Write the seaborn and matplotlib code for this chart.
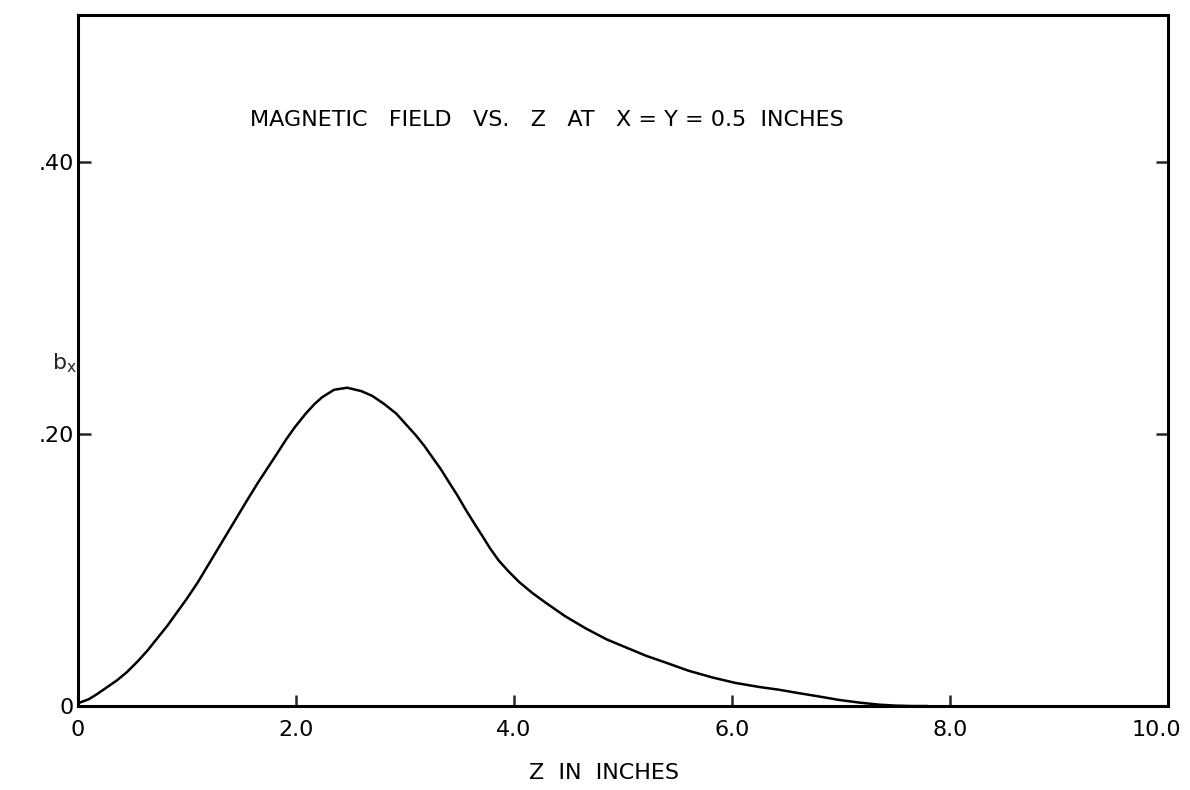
import matplotlib
matplotlib.use("Agg")
import matplotlib.pyplot as plt
from matplotlib.transforms import ScaledTranslation
import pandas as pd
import seaborn as sns

# Data (z in inches, b_x)
z = [0.00, 0.10, 0.18, 0.27, 0.36, 0.45, 0.55, 0.64, 0.73, 0.82, 0.91, 1.00,
     1.10, 1.19, 1.28, 1.37, 1.46, 1.55, 1.65, 1.74, 1.83, 1.91, 1.99, 2.09,
     2.17, 2.24, 2.35, 2.47, 2.60, 2.70, 2.81, 2.92, 3.01, 3.10, 3.18, 3.25,
     3.33, 3.40, 3.48, 3.56, 3.63, 3.71, 3.78, 3.86, 3.95, 4.05, 4.17, 4.29,
     4.47, 4.66, 4.85, 5.03, 5.21, 5.39, 5.60, 5.82, 6.03, 6.25, 6.43, 6.61,
     6.80, 6.98, 7.17, 7.35, 7.50, 7.65, 7.80]
bx = [0.002, 0.005, 0.009, 0.014, 0.019, 0.025, 0.033, 0.041, 0.050, 0.059, 0.069, 0.079,
      0.091, 0.103, 0.115, 0.127, 0.139, 0.151, 0.164, 0.175, 0.186, 0.196, 0.205, 0.215,
      0.222, 0.227, 0.2325, 0.234, 0.2315, 0.228, 0.222, 0.215, 0.207, 0.199, 0.191, 0.183,
      0.174, 0.165, 0.155, 0.144, 0.135, 0.125, 0.116, 0.107, 0.099, 0.091, 0.083, 0.076,
      0.066, 0.057, 0.049, 0.043, 0.037, 0.032, 0.026, 0.021, 0.017, 0.014, 0.012, 0.0095,
      0.007, 0.0045, 0.0025, 0.001, 0.0003, 0.0, 0.0]

xticks = [0, 2, 4, 6, 8, 10]
xticklabels = ["0", "2.0", "4.0", "6.0", "8.0", "10.0"]
yticks = [0, 0.2, 0.4]
yticklabels = ["0", ".20", ".40"]

df = pd.DataFrame({"z": z, "bx": bx})

sns.set_style("ticks")
plt.rcParams["font.family"] = ["DejaVu Sans"]

fig = plt.figure(figsize=(11.9, 7.9), dpi=100)
ax = fig.add_axes([0.0655, 0.1063, 0.916, 0.8747])

sns.lineplot(data=df, x="z", y="bx", ax=ax, color="black", linewidth=1.8, sort=False)
ax.lines[0].set_solid_joinstyle("round")

ax.set_xlim(0, 10)
ax.set_ylim(0, 0.508)

ax.set_xticks(xticks)
ax.set_xticklabels(xticklabels)
ax.set_yticks(yticks)
ax.set_yticklabels(yticklabels)

for s in ax.spines.values():
    s.set_linewidth(2.2)
    s.set_color("black")

ax.tick_params(axis="x", direction="in", length=8, width=1.8, pad=10, labelsize=16,
               labelcolor="black")
ax.tick_params(axis="y", direction="in", length=9, width=1.8, pad=3, labelsize=16,
               right=True, labelcolor="black")

# nudge the last x label left so it stays inside the figure
last = ax.get_xticklabels()[-1]
last.set_transform(last.get_transform() + ScaledTranslation(-8 / 72, 0, fig.dpi_scale_trans))

ax.set_xlabel("Z  IN  INCHES", fontsize=16, color="black")
ax.xaxis.set_label_coords(0.483, -0.082)
ax.set_ylabel("")

fig.text(0.044, 0.54, r"b$_{\mathregular{x}}$", fontsize=16, ha="left", va="center")

ax.text(1.58, 0.431, "MAGNETIC   FIELD   VS.   Z   AT   X = Y = 0.5  INCHES",
        fontsize=16, ha="left", va="center", color="black")

fig.savefig("out.png", dpi=100)
